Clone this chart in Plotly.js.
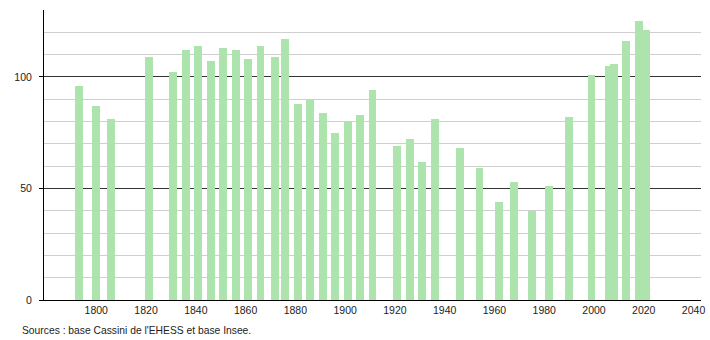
<!DOCTYPE html>
<html>
<head>
<meta charset="utf-8">
<script src="https://cdn.plot.ly/plotly-3.0.1.min.js"></script>
<style>
html,body{margin:0;padding:0;background:#fff;}
#chart{width:710px;height:340px;}
</style>
</head>
<body>
<div id="chart"></div>
<script>
var years = [1793, 1800, 1806, 1821, 1831, 1836, 1841, 1846, 1851, 1856, 1861, 1866, 1872, 1876,
             1881, 1886, 1891, 1896, 1901, 1906, 1911, 1921, 1926, 1931, 1936, 1946, 1954, 1962,
             1968, 1975, 1982, 1990, 1999, 2006, 2008, 2013, 2018, 2021];
var population = [96, 87, 81, 109, 102, 112, 114, 107, 113, 112, 108, 114, 109, 117,
                  88, 90, 84, 75, 80, 83, 94, 69, 72, 62, 81, 68, 59, 44,
                  53, 40, 51, 82, 101, 105, 106, 116, 125, 121];
var xTicks = [1800, 1820, 1840, 1860, 1880, 1900, 1920, 1940, 1960, 1980, 2000, 2020, 2040];
var yTicks = [0, 50, 100];
var sourceText = "Sources : base Cassini de l'EHESS et base Insee.";

var font = {family: "Liberation Sans, Arial, Helvetica, sans-serif", size: 10.5, color: "#222"};

var trace = {
  type: "bar",
  x: years,
  y: population,
  width: years.map(function(){return 3.2;}),
  marker: {color: "#ade4ad", line: {width: 0}},
  hoverinfo: "x+y"
};

var layout = {
  width: 710, height: 340,
  margin: {l: 44, r: 9, t: 10, b: 40},
  paper_bgcolor: "#fff", plot_bgcolor: "#fff",
  showlegend: false,
  font: font,
  bargap: 0,
  xaxis: {
    range: [1779, 2043],
    tickvals: xTicks,
    ticktext: xTicks.map(String),
    showgrid: false,
    zeroline: false,
    showline: true, linecolor: "#000", linewidth: 1,
    ticks: "", tickfont: font
  },
  yaxis: {
    range: [0, 130],
    tickvals: yTicks,
    ticktext: yTicks.map(String),
    showgrid: true, gridcolor: "#333", gridwidth: 1,
    minor: {dtick: 10, showgrid: true, gridcolor: "#cfcfcf", gridwidth: 1, ticks: ""},
    zeroline: false,
    showline: true, linecolor: "#000", linewidth: 1,
    ticks: "outside", ticklen: 4, tickcolor: "#000",
    ticklabelstandoff: 5,
    tickfont: font
  },
  annotations: [{
    text: sourceText,
    xref: "paper", yref: "paper",
    x: -44/657, y: -30/290,
    xshift: 20,
    xanchor: "left", yanchor: "middle",
    showarrow: false,
    font: {family: font.family, size: 10.3, color: "#222"}
  }]
};

Plotly.newPlot("chart", [trace], layout, {displayModeBar: false, staticPlot: true});
</script>
</body>
</html>
